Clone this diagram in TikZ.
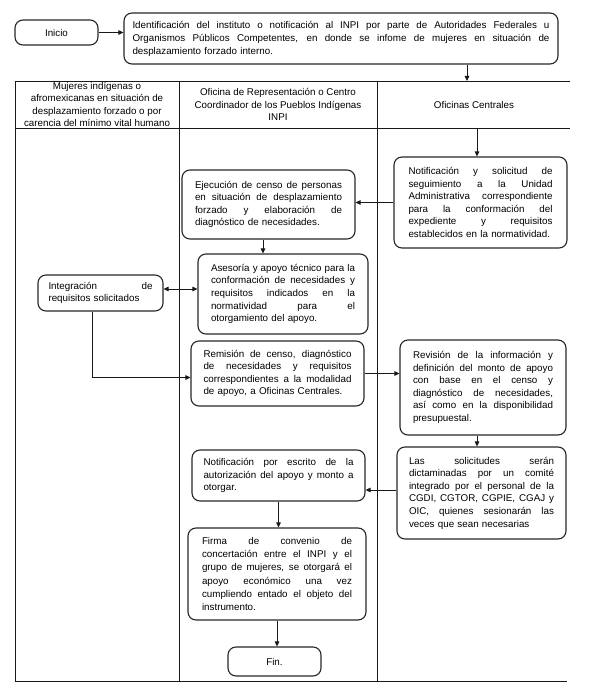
\documentclass[tikz,border=0pt]{standalone}
\usepackage{fontspec}
\setmainfont{Liberation Sans}
\usetikzlibrary{arrows.meta}
\newcommand\J[1]{{\spaceskip=0pt\relax\xspaceskip=0pt\relax\makebox[\linewidth][s]{#1}}}
\newcommand\diagfont{\fontsize{9.8}{12.6}\selectfont}
\begin{document}
\begin{tikzpicture}[x=1pt,y=-1pt,
  box/.style={draw=black!85, line width=1.1pt, rounded corners=8pt, inner sep=0pt, align=left, font=\diagfont},
  hdr/.style={inner sep=0pt, align=center, font=\fontsize{9.8}{12.3}\selectfont},
  arr/.style={-{Triangle[length=5pt,width=4.5pt]}, line width=0.9pt, draw=black!90},
  dbl/.style={{Triangle[length=5pt,width=4.5pt]}-{Triangle[length=5pt,width=4.5pt]}, line width=0.9pt, draw=black!90},
  grid/.style={line width=0.9pt, draw=black!90}]
\useasboundingbox (0,0) rectangle (590,690);

% table
\draw[grid] (15,81) -- (570,81);
\draw[grid] (15,128) -- (570,128);
\draw[grid] (15,681) -- (567,681);
\draw[grid] (15,81) -- (15,681);
\draw[grid] (179,81) -- (179,681);
\draw[grid] (377,81) -- (377,681);

% headers
\node[hdr] (l1) at (97,104.5) {Mujeres indígenas o\\afromexicanas en situación de\\desplazamiento forzado o por\\carencia del mínimo vital humano};
\node[hdr] (l2) at (278,104.5) {Oficina de Representación o Centro\\Coordinador de los Pueblos Indígenas\\INPI};
\node[hdr] (l3) at (474,105) {Oficinas Centrales};

% top
\node[box, align=center, minimum width=83pt, minimum height=25pt] (inicio) at (56.5,32.5) {Inicio};
\node[box, minimum width=434pt, minimum height=51pt, text width=417pt, font=\fontsize{9.8}{13}\selectfont] (top) at (341,38.5) {%
\J{Identificación del instituto o notificación al INPI por parte de Autoridades Federales u}\\
\J{Organismos Públicos Competentes, en donde se infome de mujeres en situación de}\\
desplazamiento forzado interno.};

% lane 3
\node[box, minimum width=173pt, minimum height=91pt, text width=144pt] (notif) at (480.5,202.5) {%
\J{Notificación y solicitud de}\\
\J{seguimiento a la Unidad}\\
\J{Administrativa correspondiente}\\
\J{para la conformación del}\\
\J{expediente y requisitos}\\
establecidos en la normatividad.};

\node[box, minimum width=166pt, minimum height=95pt, text width=140pt] (revis) at (483,387.5) {%
\J{Revisión de la información y}\\
\J{definición del monto de apoyo}\\
\J{con base en el censo y}\\
\J{diagnóstico de necesidades,}\\
\J{así como en la disponibilidad}\\
presupuestal.};

\node[box, minimum width=169pt, minimum height=92pt, text width=145pt] (lassol) at (481.5,493) {%
\J{Las solicitudes serán}\\
\J{dictaminadas por un comité}\\
\J{integrado por el personal de la}\\
\J{CGDI, CGTOR, CGPIE, CGAJ y}\\
\J{OIC, quienes sesionarán las}\\
veces que sean necesarias};

% lane 2
\node[box, minimum width=173pt, minimum height=69pt, text width=147pt] (ejec) at (268.5,204.5) {%
\J{Ejecución de censo de personas}\\
\J{en situación de desplazamiento}\\
\J{forzado y elaboración de}\\
diagnóstico de necesidades.};

\node[box, minimum width=170pt, minimum height=80pt, text width=144pt] (ases) at (283,294) {%
\J{Asesoría y apoyo técnico para la}\\
\J{conformación de necesidades y}\\
\J{requisitos indicados en la}\\
\J{normatividad para el}\\
otorgamiento del apoyo.};

\node[box, minimum width=173pt, minimum height=65pt, text width=148pt] (remis) at (277.5,373.5) {%
\J{Remisión de censo, diagnóstico}\\
\J{de necesidades y requisitos}\\
\J{correspondientes a la modalidad}\\
de apoyo, a Oficinas Centrales.};

\node[box, minimum width=173pt, minimum height=51pt, text width=150pt] (notesc) at (278.5,475.5) {%
\J{Notificación por escrito de la}\\
\J{autorización del apoyo y monto a}\\
otorgar.};

\node[box, minimum width=178pt, minimum height=92pt, text width=150pt, font=\fontsize{9.8}{13.2}\selectfont] (firma) at (277,574) {%
\J{Firma de convenio de}\\
\J{concertación entre el INPI y el}\\
\J{grupo de mujeres, se otorgará el}\\
\J{apoyo económico una vez}\\
\J{cumpliendo entado el objeto del}\\
instrumento.};

\node[box, align=center, minimum width=93pt, minimum height=29pt] (fin) at (274.5,661.5) {Fin.};

% lane 1
\node[box, minimum width=125pt, minimum height=36pt, text width=104pt] (integ) at (100.5,293) {%
\J{Integración de}\\
requisitos solicitados};

% connectors
\coordinate (h1) at (467,81);
\coordinate (h2) at (477,128);
\draw[arr] (inicio.east) -- (inicio.east -| top.west);
\draw[arr] (top.south -| h1) -- (h1);
\draw[arr] (h2) -- (h2 |- notif.north);
\draw[arr] (notif.west) -- (notif.west -| ejec.east);
\draw[arr] ([xshift=-5.5pt]ejec.south) -- ([xshift=-5.5pt]ejec.south |- ases.north);
\draw[dbl] ([yshift=4pt]integ.east) -- ([yshift=4pt]integ.east -| ases.west);
\draw[arr] ([xshift=-8.5pt]integ.south) |- ([yshift=-4pt]remis.west);
\draw[arr] (remis.east) -- (remis.east -| revis.west);
\draw[arr] ([xshift=-6pt]revis.south) -- ([xshift=-6pt]revis.south |- lassol.north);
\draw[arr] ([yshift=3pt]lassol.west) -- ([yshift=3pt]lassol.west -| notesc.east);
\draw[arr] (notesc.south) -- (notesc.south |- firma.north);
\draw[arr] (firma.south) -- (firma.south |- fin.north);
\end{tikzpicture}
\end{document}
